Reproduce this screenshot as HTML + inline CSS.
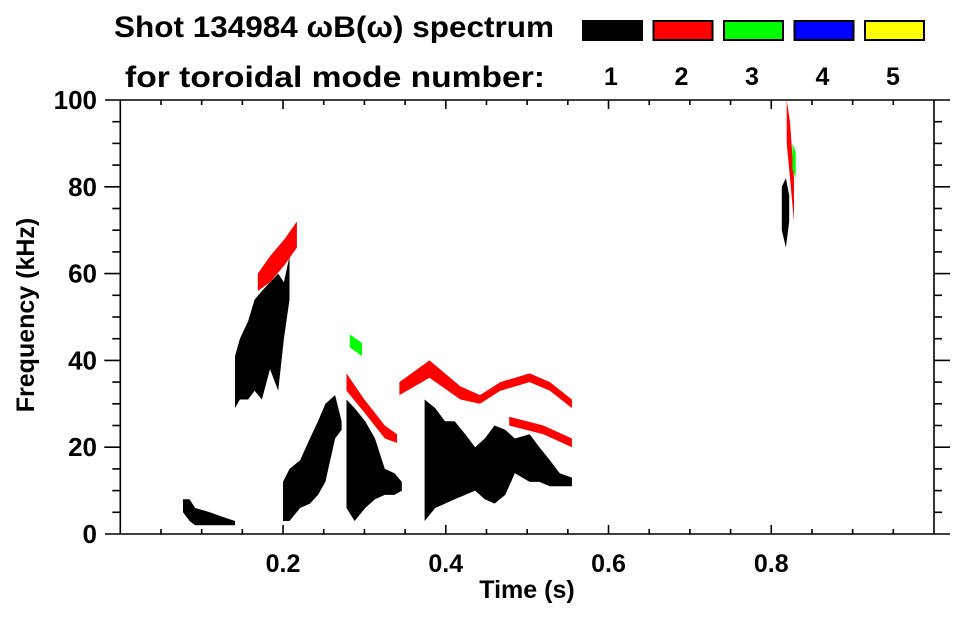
<!DOCTYPE html>
<html><head><meta charset="utf-8"><style>
body{margin:0;background:#fff;}
svg text{font-family:"Liberation Sans",Arial,sans-serif;font-weight:bold;fill:#000;}
</style></head><body>
<svg id="chart" width="963" height="615" viewBox="0 0 963 615" xmlns="http://www.w3.org/2000/svg">
<text x="114" y="37" font-size="30" textLength="440" lengthAdjust="spacingAndGlyphs">Shot 134984 ωB(ω) spectrum</text>
<text x="125" y="87" font-size="30" textLength="420" lengthAdjust="spacingAndGlyphs">for toroidal mode number:</text>
<g id="legend"></g>
<g id="marks"></g>
<g id="axes"></g>
</svg>
<script>
const modeLabels=["1","2","3","4","5"];
const modeColors=["#000000","#ff0000","#00ff00","#0000ff","#ffff00"];
const xTicks=[0.2,0.4,0.6,0.8];
const yTicks=[0,20,40,60,80,100];
// blobs: time (s), low freq (kHz), high freq (kHz), mode
const blobA_t=[0.077,0.085,0.092,0.110,0.125,0.141];
const blobA_lo=[5,3,2,2,2,2];
const blobA_hi=[8,8,6,5,4,3];
const blobB_t=[0.141,0.147,0.157,0.165,0.174,0.184,0.194,0.201,0.208];
const blobB_lo=[29,31,31,33,31,38,33,45,54];
const blobB_hi=[41,45,49,54,56,58,60,58,64];
const blobC_t=[0.200,0.208,0.221,0.233,0.243,0.252,0.264,0.272];
const blobC_lo=[3,3,6,7,9,12,22,24];
const blobC_hi=[12,15,17,22,26,30,32,26];
const blobD_t=[0.278,0.288,0.301,0.313,0.325,0.337,0.346];
const blobD_lo=[6,3,6,8,9,9,10];
const blobD_hi=[31,29,26,22,15,14,12];
const blobE_t=[0.374,0.387,0.399,0.411,0.424,0.436,0.448,0.460,0.473,0.485,0.503,0.515,0.528,0.540,0.555];
const blobE_lo=[3,6,7,8,9,10,8,7,9,14,12,12,11,11,11];
const blobE_hi=[31,29,26,26,23,20,22,25,24,22,23,20,17,14,13];
const redB_t=[0.169,0.184,0.202,0.217];
const redB_lo=[56,58,62,66];
const redB_hi=[60,64,68,72];
const redD_t=[0.278,0.300,0.325,0.340];
const redD_lo=[33,28,22,21];
const redD_hi=[37,31,25,23];
const redE_t=[0.343,0.380,0.418,0.442,0.467,0.503,0.528,0.555];
const redE_lo=[32,36,31,30,33,35,33,29];
const redE_hi=[35,40,34,32,35,37,35,31];
const redE2_t=[0.478,0.520,0.555];
const redE2_lo=[25,23,20];
const redE2_hi=[27,25,22];
const greenD_t=[0.282,0.297];
const greenD_lo=[43,41];
const greenD_hi=[46,44];
const blackR_t=[0.813,0.818,0.822];
const blackR_lo=[70,66,72];
const blackR_hi=[80,82,78];
const redR_t=[0.819,0.823,0.828];
const redR_lo=[90,82,72];
const redR_hi=[100,95,82];
const greenR_t=[0.826,0.830];
const greenR_lo=[84,82];
const greenR_hi=[90,88];

const X0=120.3,X1=934,Y0=534,Y1=100;
const sx=t=>X0+(X1-X0)*t/1.0;
const sy=f=>Y0-(Y0-Y1)*f/100;
const NS="http://www.w3.org/2000/svg";
function mk(tag,parent){const e=document.createElementNS(NS,tag);parent.appendChild(e);return e;}

const marks=document.getElementById('marks');
function band(name,mode,t,lo,hi){
  const p=mk('polygon',marks);
  
  
  const pts=[];
  for(let i=0;i<t.length;i++)pts.push(sx(t[i]).toFixed(1)+','+sy(hi[i]).toFixed(1));
  for(let i=t.length-1;i>=0;i--)pts.push(sx(t[i]).toFixed(1)+','+sy(lo[i]).toFixed(1));
  p.setAttribute('points',pts.join(' '));
  p.setAttribute('fill',modeColors[mode]);
}
band('blob-a-n1',0,blobA_t,blobA_lo,blobA_hi);
band('blob-b-n1',0,blobB_t,blobB_lo,blobB_hi);
band('blob-c-n1',0,blobC_t,blobC_lo,blobC_hi);
band('blob-d-n1',0,blobD_t,blobD_lo,blobD_hi);
band('blob-e-n1',0,blobE_t,blobE_lo,blobE_hi);
band('red-b-n2',1,redB_t,redB_lo,redB_hi);
band('red-d-n2',1,redD_t,redD_lo,redD_hi);
band('red-e-n2',1,redE_t,redE_lo,redE_hi);
band('red-e2-n2',1,redE2_t,redE2_lo,redE2_hi);
band('green-d-n3',2,greenD_t,greenD_lo,greenD_hi);
band('black-late-n1',0,blackR_t,blackR_lo,blackR_hi);
band('red-late-n2',1,redR_t,redR_lo,redR_hi);
band('green-late-n3',2,greenR_t,greenR_lo,greenR_hi);

// legend
const lg=document.getElementById('legend');
modeLabels.forEach((lab,i)=>{
  const x=582+i*70.5;
  const r=mk('rect',lg);
  
  
  r.setAttribute('x',x+1);r.setAttribute('y',21);r.setAttribute('width',59);r.setAttribute('height',19);
  r.setAttribute('fill',modeColors[i]);r.setAttribute('stroke','#000');r.setAttribute('stroke-width',2);
  const tx=mk('text',lg);
  
  
  tx.setAttribute('x',x+29);tx.setAttribute('y',85);tx.setAttribute('font-size',25);tx.setAttribute('text-anchor','middle');
  tx.textContent=lab;
});

// axes
const ax=document.getElementById('axes');
function line(name,x1,y1,x2,y2){const l=mk('line',ax);
  
  
  l.setAttribute('x1',x1);l.setAttribute('y1',y1);l.setAttribute('x2',x2);l.setAttribute('y2',y2);l.setAttribute('stroke','#000');l.setAttribute('stroke-width',1.6);}
line('plot-frame-top',105,Y1,950,Y1);
line('plot-frame-bottom',105,Y0,950,Y0);
line('plot-frame-left',X0,Y1,X0,Y0);
line('plot-frame-right',X1,Y1,X1,Y0);
for(let k=1;k<20;k++){const t=k*0.05,x=sx(t),maj=(k%4===0),L=maj?9:5;
  line('x-tick-top',x,Y1,x,Y1+L);line('x-tick-bottom',x,Y0,x,Y0-L);}
for(let k=1;k<20;k++){const f=k*5,y=sy(f),maj=(k%4===0),L=maj?16:8;
  line('y-tick-left',X0,y,X0-L,y);line('y-tick-right',X1,y,X1+L,y);}
xTicks.forEach(v=>{const t=mk('text',ax);
  
  
  t.setAttribute('x',sx(v));t.setAttribute('y',572);t.setAttribute('font-size',25);t.setAttribute('text-anchor','middle');t.textContent=v.toFixed(1);});
yTicks.forEach(v=>{const t=mk('text',ax);
  
  
  t.setAttribute('x',97);t.setAttribute('y',sy(v)+9);t.setAttribute('font-size',26);t.setAttribute('text-anchor','end');t.textContent=v;});
const xl=mk('text',ax);


xl.setAttribute('x',527);xl.setAttribute('y',598);xl.setAttribute('font-size',25);xl.setAttribute('text-anchor','middle');xl.textContent='Time (s)';
const yl=mk('text',ax);


yl.setAttribute('transform','translate(34,315) rotate(-90)');yl.setAttribute('font-size',25);yl.setAttribute('text-anchor','middle');yl.textContent='Frequency (kHz)';
</script>
</body></html>
